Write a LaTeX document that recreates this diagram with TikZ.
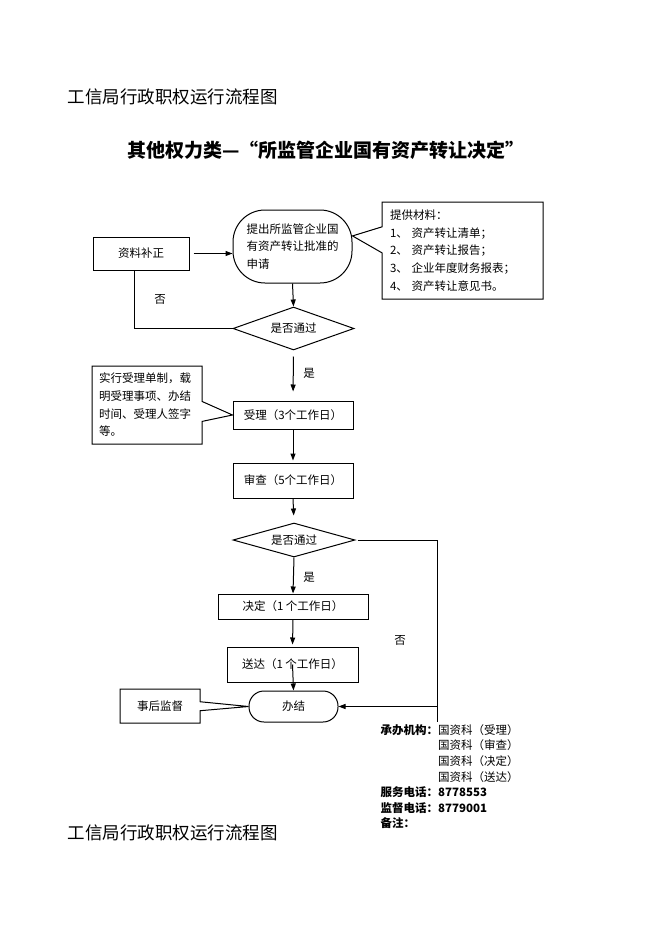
\documentclass[tikz,border=0pt]{standalone}
\usepackage{fontspec}
\setmainfont{Noto Sans CJK SC}
\usetikzlibrary{shapes.geometric,shapes.callouts,arrows.meta}

\begin{document}
\begin{tikzpicture}[x=1pt,y=-1pt,line width=1pt,
  font=\fontsize{11.5}{17.7}\selectfont,
  box/.style={draw,rectangle,inner sep=0pt},
  stadium/.style={draw,rectangle,rounded corners=#1,inner sep=0pt},
  decision/.style={draw,diamond,aspect=2.8,inner sep=0pt},
  note/.style={draw,rectangle callout,inner sep=0pt,align=left},
  arrow/.style={-{Triangle[length=7pt,width=5pt]}}]
\useasboundingbox (0,0) rectangle (662,936);
% headings
\node[anchor=west,font=\fontsize{17.5}{20}\selectfont] (head) at (64,97) {工信局行政职权运行流程图};
\node[font=\fontsize{19}{22}\selectfont\bfseries] (title) at (326,150) {其他权力类—“所监管企业国有资产转让决定”};
% flow
\node[box,minimum width=96pt,minimum height=33pt] (fix) at (141,253.5) {资料补正};
\node[stadium=32pt,minimum width=119pt,minimum height=73pt,align=left] (apply) at (292.5,246.5) {提出所监管企业国\\有资产转让批准的\\申请};
\node[note,minimum width=161pt,minimum height=97pt,text width=145pt,
  callout absolute pointer={(apply.10)},callout pointer width=26pt] (docs) at (462.5,250.5)
  {提供材料：\\1、 资产转让清单；\\2、 资产转让报告；\\3、 企业年度财务报表；\\4、 资产转让意见书。};
\node[decision,minimum width=121pt,minimum height=43pt] (check1) at (293.5,328.5) {是否通过};
\node[box,minimum width=120pt,minimum height=28pt] (accept) at (293,415) {受理（3个工作日）};
\node[note,minimum width=110pt,minimum height=78pt,text width=96pt,
  callout absolute pointer={(accept.west)},callout pointer width=20pt] (rule) at (147,405)
  {实行受理单制，载\\明受理事项、办结\\时间、受理人签字\\等。};
\node[box,minimum width=120pt,minimum height=35pt] (review) at (293,480.5) {审查（5个工作日）};
\node[decision,minimum width=122pt,minimum height=34pt] (check2) at (294,540) {是否通过};
\node[box,minimum width=150pt,minimum height=25pt] (decide) at (293,606.5) {决定（1 个工作日）};
\node[box,minimum width=131pt,minimum height=35pt] (deliver) at (292.5,664.5) {送达（1 个工作日）};
\node[stadium=15pt,minimum width=89pt,minimum height=31pt] (done) at (293.5,706.5) {办结};
\node[note,minimum width=80pt,minimum height=34pt,
  callout absolute pointer={(done.west)},callout pointer width=9pt] (supervise) at (160,706) {事后监督};
% labels
\node (no1) at (160,299) {否};
\node (yes1) at (309,373) {是};
\node (yes2) at (309,577) {是};
\node (no2) at (400,640) {否};
% connectors
\draw[arrow,shorten <=4pt] (fix.east) -- (apply.west |- fix.east);
\draw[arrow] (apply.south) -- (check1.north);
\draw ([xshift=-7pt]fix.south) |- (check1.west);
\draw[arrow,shorten <=6pt,shorten >=9pt] (check1.south) -- (accept.north);
\draw[arrow,shorten >=2pt] (accept.south) -- (review.north);
\draw[arrow,shorten >=7pt] (review.south) -- (check2.north);
\draw[arrow] (check2.south) -- (decide.north);
\draw[arrow,shorten >=2pt] (decide.south) -- (deliver.north);
\draw[arrow] (deliver.center) -- (done.north);
\coordinate (turn) at (437,540);
\coordinate (tail) at (437,722);
\draw[shorten <=2pt] (check2.east) -- (turn) -- (tail);
\draw[arrow] (turn |- done.east) -- (done.east);
% office
\node[anchor=north west,align=left,inner sep=0pt,font=\fontsize{11.5}{15.6}\selectfont] (office) at (380,724)
  {{\bfseries 承办机构：}国资科（受理）\\
   \hspace*{57.5pt}国资科（审查）\\
   \hspace*{57.5pt}国资科（决定）\\
   \hspace*{57.5pt}国资科（送达）\\
   {\bfseries 服务电话：8778553}\\
   {\bfseries 监督电话：8779001}\\
   {\bfseries 备注：}};
\node[anchor=west,font=\fontsize{17.5}{20}\selectfont] (foot) at (64,833) {工信局行政职权运行流程图};
\end{tikzpicture}
\end{document}
